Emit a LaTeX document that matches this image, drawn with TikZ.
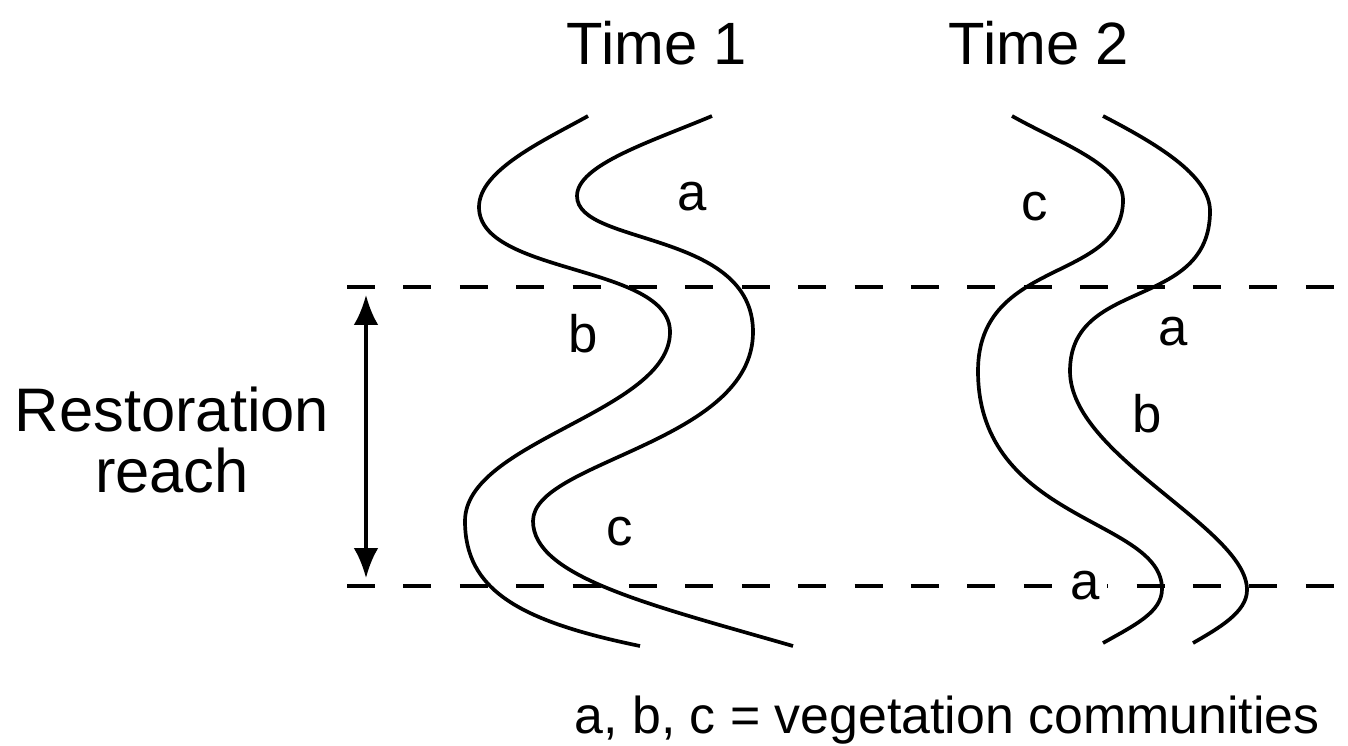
\documentclass[tikz,border=0pt]{standalone}
\usepackage{fontspec}
\setmainfont{Liberation Sans}
\usetikzlibrary{arrows.meta}

\begin{document}
\begin{tikzpicture}[
    x=0.02cm, y=-0.02cm,
    stream/.style={line width=2.1pt, line join=round},
    reachline/.style={line width=2pt, dash pattern=on 15.9pt off 16.2pt},
    lbl/.style={font=\fontsize{30}{36}\selectfont, inner sep=2pt},
    title/.style={font=\fontsize{34}{40}\selectfont, anchor=base},
    arr/.style={{Latex[length=17pt,width=14pt]}-{Latex[length=17pt,width=14pt]}, line width=2pt}
]
    \useasboundingbox (0,0) rectangle (1348,745);

    % titles
    \node[title] (t1) at (657,64) {Time 1};
    \node[title] (t2) at (1039,64) {Time 2};

    % reach limits
    \coordinate (upw) at (347,287);
    \coordinate (upe) at (1348,287);
    \coordinate (loww) at (347,586);
    \coordinate (lowe) at (1348,586);
    \draw[reachline] (upw) -- (upe);
    \draw[reachline] (loww) -- (lowe);

    % time 1 channel
    \draw[stream] (588,116) .. controls (545,140) and (479,170) .. (479,207)
        .. controls (479,275) and (670,264) .. (670,332)
        .. controls (670,412) and (465,441) .. (465,521)
        .. controls (465,590) and (519,621) .. (640,646);
    \draw[stream] (712,116) .. controls (650,142) and (577,165) .. (577,196)
        .. controls (577,246) and (753,230) .. (753,332)
        .. controls (753,443) and (533,461) .. (533,521)
        .. controls (533,577) and (651,605) .. (793,646);

    % time 2 channel
    \draw[stream] (1012,116) .. controls (1060,143) and (1123,165) .. (1123,200)
        .. controls (1123,283) and (978,257) .. (978,371)
        .. controls (978,522) and (1162,518) .. (1162,589)
        .. controls (1162,612) and (1135,625) .. (1103,643);
    \draw[stream] (1103,116) .. controls (1155,143) and (1210,175) .. (1210,211)
        .. controls (1210,311) and (1070,277) .. (1070,371)
        .. controls (1070,456) and (1247,528) .. (1247,590)
        .. controls (1247,612) and (1219,628) .. (1193,643);

    % community labels
    \node[lbl] (a1) at (692,197) {a};
    \node[lbl] (b1) at (583,334) {b};
    \node[lbl] (c1) at (620,532) {c};
    \node[lbl] (c2) at (1035,207) {c};
    \node[lbl] (a2) at (1173,332) {a};
    \node[lbl] (b2) at (1147,414) {b};
    \node[lbl, fill=white, inner sep=4pt] (a3) at (1085,586) {a};

    % restoration reach
    \coordinate (rtop) at (366,295);
    \coordinate (rbot) at (366,578);
    \draw[arr] (rtop) -- (rbot);
    \node[font=\fontsize{35}{35}\selectfont, align=center] (reach) at (172,440) {Restoration\\reach};

    % key
    \node[font=\fontsize{29.5}{35}\selectfont, anchor=base] (key) at (947,733) {a, b, c = vegetation communities};
\end{tikzpicture}
\end{document}
